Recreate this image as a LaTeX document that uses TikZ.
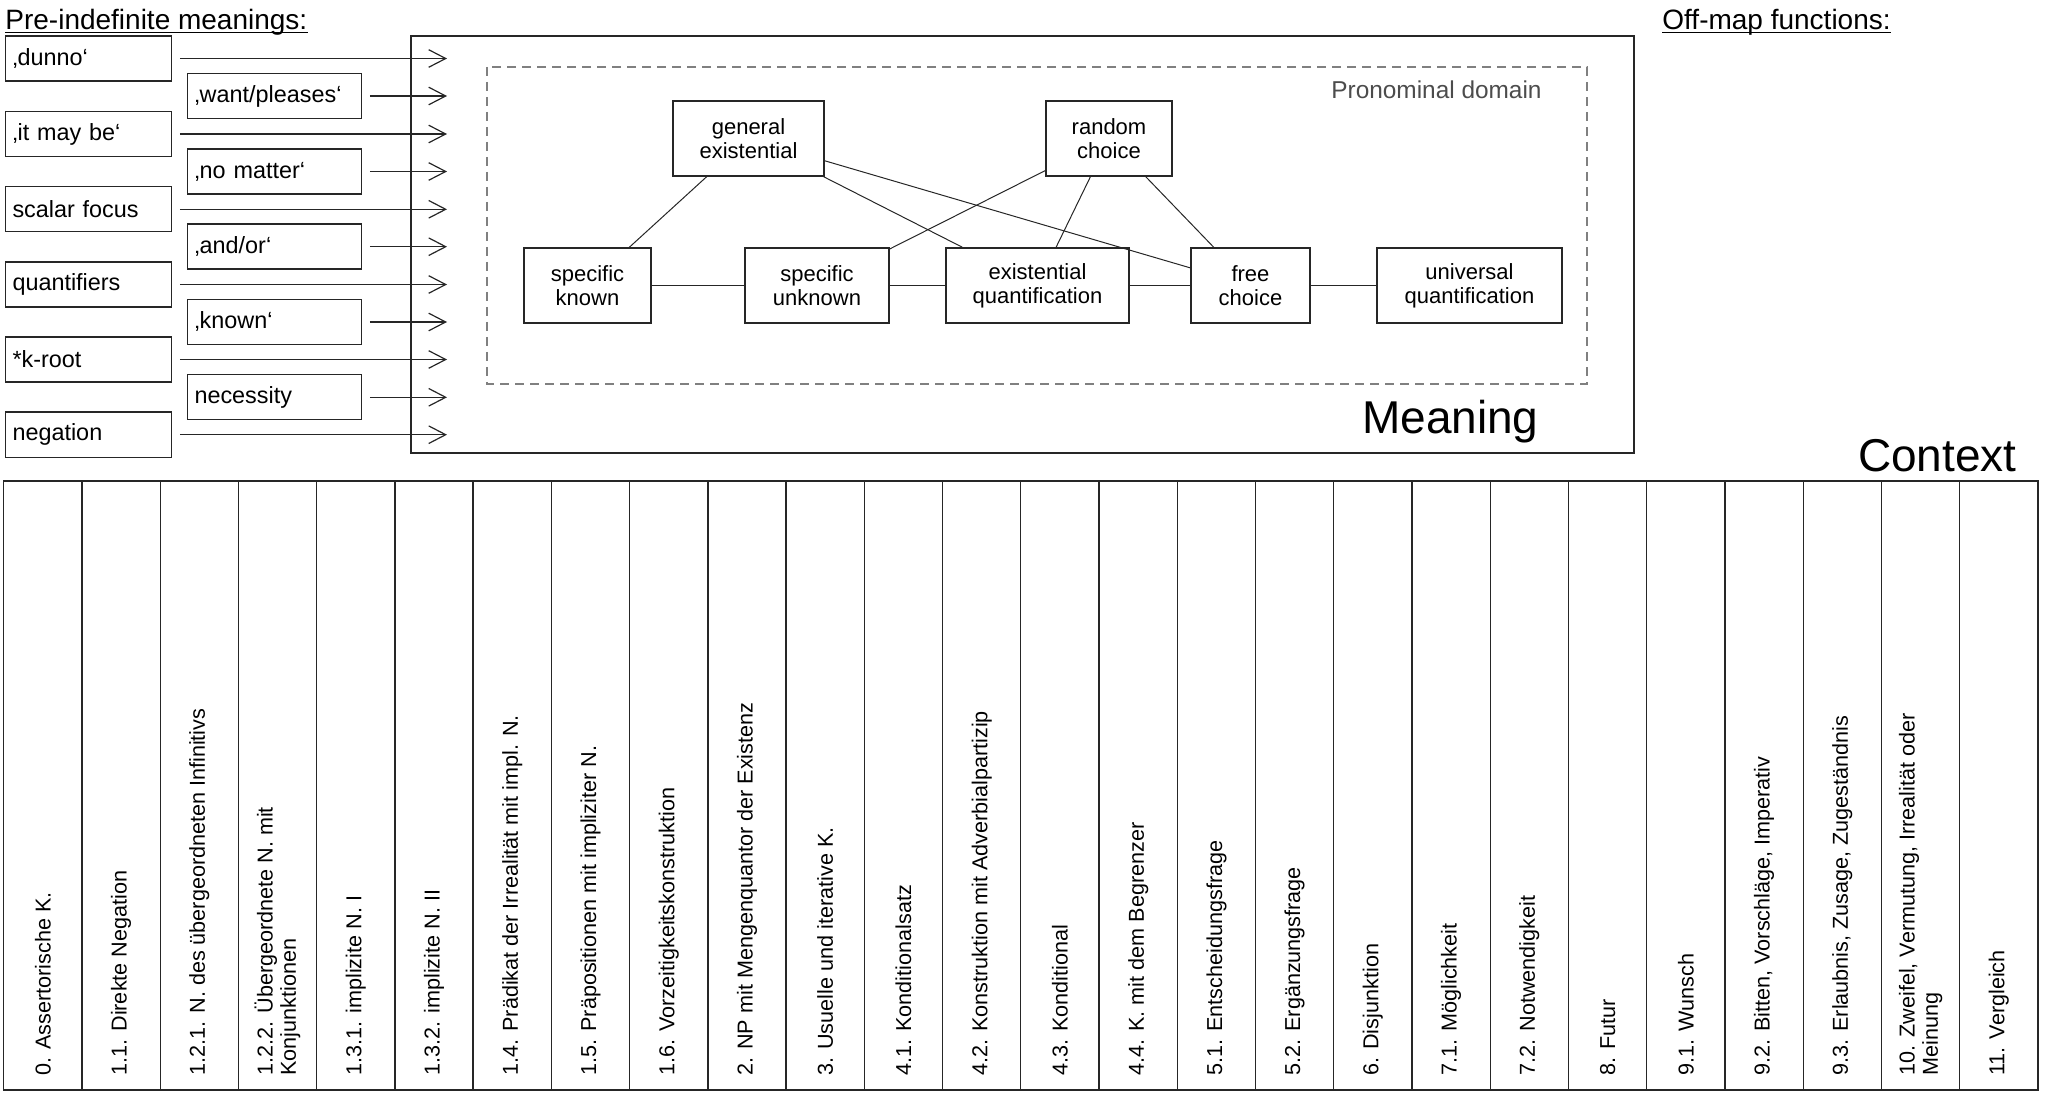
\documentclass[tikz,border=0pt]{standalone}
\usepackage{fontspec}
\setmainfont{Liberation Sans}
\usetikzlibrary{positioning,arrows.meta}

\tikzset{
    heading/.style={anchor=base west, inner sep=0pt, font=\fontsize{14}{16}\selectfont},
    sense/.style={draw=black!85, line width=0.7pt, anchor=west, align=left,
        minimum height=22.5pt, inner xsep=3.4pt, inner ysep=0pt,
        font=\fontsize{11.7}{13}\selectfont},
    lbox/.style={sense, text width=76.2pt},
    mbox/.style={sense, text width=80.2pt},
    feed/.style={draw=black!85, line width=0.6pt, shorten <=3.7pt,
        -{Straight Barb[length=8.5pt,width=8.8pt]}},
    mapnode/.style={draw=black!85, line width=0.7pt, align=center, inner sep=0pt,
        minimum height=37.5pt, font=\fontsize{11}{12}\selectfont},
    link/.style={draw=black!85, line width=0.5pt},
    ctx/.style={rotate=90, anchor=west, align=left, inner sep=0pt,
        font=\fontsize{10.8}{11.6}\selectfont},
    bigtitle/.style={anchor=base east, inner sep=0pt, font=\fontsize{23}{26}\selectfont}
}

\begin{document}
\begin{tikzpicture}[x=0.5pt, y=-0.5pt]
    \useasboundingbox (0,0) rectangle (2047,1107);

    % Headings
    \node[heading] (pretitle) at (5,29.5) {Pre-indefinite meanings:};
    \node[heading] (offtitle) at (1662,30) {Off-map functions:};
    \draw[line width=0.65pt] ([yshift=-1.4pt]pretitle.base west) -- ([yshift=-1.4pt]pretitle.base east);
    \draw[line width=0.65pt] ([yshift=-1.2pt]offtitle.base west) -- ([yshift=-1.2pt]offtitle.base east);

    % Meaning frame and pronominal domain
    \draw[black!85, line width=0.7pt] (411,36) rectangle (1634,453);
    \draw[black!50, line width=0.6pt, dash pattern=on 4.5pt off 3pt] (487,67) rectangle (1587,384);
    \node[anchor=base east, inner sep=0pt, text=black!70, font=\fontsize{12.2}{14}\selectfont] (domain) at (1542,99) {Pronominal domain};
    \node[bigtitle] (meaning) at (1539,433) {Meaning};
    \coordinate (mIn) at (447,0);

    % Pre-indefinite meanings
    \node[lbox] (dunno) at (5,58.5) {‚dunno‘};
    \node[mbox] (want) at (187,96) {‚want/pleases‘};
    \node[lbox] (maybe) at (5,134) {‚it may be‘};
    \node[mbox] (nomatter) at (187,171.5) {‚no matter‘};
    \node[lbox] (scalar) at (5,209.3) {scalar focus};
    \node[mbox] (andor) at (187,246.7) {‚and/or‘};
    \node[lbox] (quant) at (5,284.5) {quantifiers};
    \node[mbox] (known) at (187,322) {‚known‘};
    \node[lbox] (kroot) at (5,359.5) {*k-root};
    \node[mbox] (necess) at (187,397.3) {necessity};
    \node[lbox] (negat) at (5,434.7) {negation};

    \foreach \src in {dunno,want,maybe,nomatter,scalar,andor,quant,known,kroot,necess,negat}
        \draw[feed] (\src.east) -- (\src.east -| mIn);

    % Semantic map
    \node[mapnode, minimum width=75.5pt] (genex) at (748.5,138.5) {general\\existential};
    \node[mapnode, minimum width=63pt] (rndch) at (1109,138.5) {random\\choice};
    \node[mapnode, minimum width=63.5pt] (spknown) at (587.5,285.5) {specific\\known};
    \node[mapnode, minimum width=72pt] (spunknown) at (817,285.5) {specific\\unknown};
    \node[mapnode, minimum width=91.5pt] (exquant) at (1037.5,285.5) {existential\\quantification};
    \node[mapnode, minimum width=59.5pt] (freech) at (1250.5,285.5) {free\\choice};
    \node[mapnode, minimum width=92.5pt] (uniquant) at (1469.5,285.5) {universal\\quantification};

    \draw[link] (spknown) -- (spunknown);
    \draw[link] (spunknown) -- (exquant);
    \draw[link] (exquant) -- (freech);
    \draw[link] (freech) -- (uniquant);
    \draw[link] (genex) -- (spknown);
    \draw[link] (genex) -- (exquant);
    \draw[link] (genex) -- (freech);
    \draw[link] (rndch) -- (spunknown);
    \draw[link] (rndch) -- (exquant);
    \draw[link] (rndch) -- (freech);

    % Context table
    \node[bigtitle] (context) at (2017,472) {Context};
    \draw[black!85, line width=0.65pt] (3.7,481) rectangle (2038,1090);
    \foreach \i in {1,...,25}
        \draw[black!85, line width=0.65pt] ({3.7+78.24*\i},481) -- ({3.7+78.24*\i},1090);
    \foreach \txt [count=\i from 0] in {{0. Assertorische K.}, {1.1. Direkte Negation},
        {1.2.1. N. des übergeordneten Infinitivs}, {1.2.2. Übergeordnete N. mit\\Konjunktionen},
        {1.3.1. implizite N. I}, {1.3.2. implizite N. II}, {1.4. Prädikat der Irrealität mit impl. N.},
        {1.5. Präpositionen mit impliziter N.}, {1.6. Vorzeitigkeitskonstruktion},
        {2. NP mit Mengenquantor der Existenz}, {3. Usuelle und iterative K.}, {4.1. Konditionalsatz},
        {4.2. Konstruktion mit Adverbialpartizip}, {4.3. Konditional}, {4.4. K. mit dem Begrenzer},
        {5.1. Entscheidungsfrage}, {5.2. Ergänzungsfrage}, {6. Disjunktion}, {7.1. Möglichkeit},
        {7.2. Notwendigkeit}, {8. Futur}, {9.1. Wunsch}, {9.2. Bitten, Vorschläge, Imperativ},
        {9.3. Erlaubnis, Zusage, Zugeständnis}, {10. Zweifel, Vermutung, Irrealität oder\\Meinung},
        {11. Vergleich}}
        \node[ctx] (c\i) at ({3.7+78.24*(\i+0.5)},1076) {\txt};

\end{tikzpicture}
\end{document}
